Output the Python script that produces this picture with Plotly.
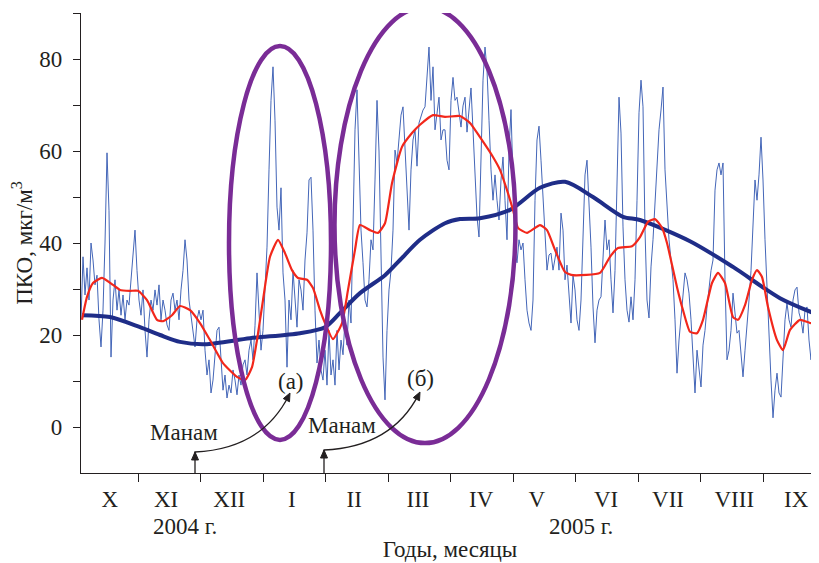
import plotly.graph_objects as go

# x axis unit: months counted from 1 Oct 2004 (month boundaries at integers)
month_labels = ["X", "XI", "XII", "I", "II", "III", "IV", "V", "VI", "VII", "VIII", "IX"]
month_label_pos = [0.55, 1.45, 2.46, 3.46, 4.46, 5.48, 6.49, 7.38, 8.49, 9.48, 10.54, 11.53]
month_bounds = [1, 2, 3, 4, 5, 6, 7, 8, 9, 10, 11]

# daily PKO values (thin blue line), first value at month 0.088, step 0.032 month
daily_start = 0.088
daily_step = 0.032
daily_pko = [
    23.3, 37, 28.7, 34.6, 27.6, 40, 36.3, 30.9, 33, 23.3,
    17.4, 25.4, 40, 59.6, 47, 15.2, 27.6, 32, 25.4, 29.8,
    24.3, 28.7, 23.3, 27.6, 26.5, 32, 38.5, 42.8, 34, 27.6,
    24.3, 29.8, 21, 15.2, 23.3, 27.6, 25.4, 29.8, 26.5, 30.9,
    23.3, 27.6, 25.4, 22.2, 21, 27.6, 29.1, 25.4, 27.6, 23.3,
    29.8, 34, 40.7, 36.3, 27.6, 23.9, 21, 17.4, 23.3, 25.4,
    23.3, 25.4, 16.7, 11.3, 14.6, 7.4, 10.2, 16.7, 21, 21.7,
    14.6, 8, 11.3, 6.3, 9.1, 7.4, 12.4, 10.2, 7, 11.3,
    9.1, 13.5, 14.6, 11.3, 16.7, 18.9, 14.6, 22, 33.5, 23.3,
    16.7, 21, 29.8, 39.1, 55.9, 71, 78.3, 66.7, 47.8, 42.8,
    52, 33.5, 27.6, 13, 27.6, 23.3, 34, 27.6, 21.7, 32,
    29.8, 25.4, 36.3, 42.2, 53.7, 54.3, 42.8, 25.4, 13.9, 18.9,
    12.4, 10.2, 16.7, 9.1, 21, 11.3, 14.6, 9.1, 21, 12.4,
    18.9, 15.7, 23.3, 17.8, 27.6, 22.6, 45.7, 64.6, 73.3, 60.2,
    42.8, 35.7, 27.6, 26.1, 32, 40.7, 38.5, 53.7, 71, 60,
    40, 15.2, 5.9, 21, 29.8, 34, 42.8, 60.2, 57.4, 62.4,
    67.8, 69.6, 60.2, 48.7, 42.8, 55.9, 62.4, 64.6, 56.7, 66.1,
    67.4, 68.9, 69.6, 75.4, 82.6, 71, 78.3, 64.6, 68.9, 71.7,
    62.4, 64.6, 64.6, 58, 55.9, 71, 76, 71, 71.7, 67.8,
    65.2, 69.8, 71.7, 64.1, 68.9, 73.7, 64.6, 54.8, 45.7, 41.3,
    55.9, 75.4, 82.6, 77.6, 66.7, 55.9, 49.3, 54.8, 49.3, 45,
    53.7, 58.7, 49.3, 40.7, 60.2, 69, 53.7, 38.5, 35.7, 40.7,
    38.5, 40, 32, 25.4, 22.6, 21, 27.6, 49.3, 62.4, 65.4,
    58, 50, 39.6, 34.1, 37.4, 37.8, 34.1, 36.3, 39.1, 34.1,
    46.5, 42.8, 32, 35.2, 27.6, 22.6, 33, 29.8, 23.3, 21,
    27.6, 40.7, 54.8, 58, 49.3, 39.1, 26.1, 18.3, 25.4, 27.6,
    28.3, 38.5, 45, 38.5, 40.7, 32, 24.8, 34, 53.7, 71.7,
    63.9, 43.5, 32, 25.4, 22.8, 28.3, 23.3, 32, 49.3, 68.3,
    75.4, 69.6, 42.8, 27.6, 23.7, 34.8, 40.7, 49.3, 58, 64.6,
    68.9, 73.9, 55.9, 47.2, 40.7, 36.3, 32, 23.3, 11.7, 18.9,
    23.3, 27.6, 33.5, 32, 29.1, 23.3, 14.6, 7.4, 16.7, 12.4,
    8.7, 17.8, 21, 26.1, 29.8, 34, 36.3, 51.5, 55.9, 57.4,
    54.8, 57.4, 32, 14.6, 16.7, 21, 29.1, 25.4, 20.4, 21,
    15.7, 10.9, 16.7, 23.3, 27.6, 34, 45, 53.7, 49.3, 54.8,
    63, 53.7, 40.7, 29.8, 21.7, 10.2, 2, 8, 11.7, 7.4,
    6.5, 14.6, 23.3, 27, 23.3, 21.7, 27.6, 29.8, 30.4, 24.8,
    23.3, 20.4, 25.4, 26.1, 18.9, 14.6, 21, 23.3, 27.6, 29.1,
]

# smoothed (red) curve
red_x = [0.104, 0.184, 0.28, 0.424, 0.6, 0.712, 0.872, 1.0, 1.144, 1.304, 1.4, 1.544, 1.672, 1.832,
         1.992, 2.152, 2.36, 2.584, 2.712, 2.824, 2.904, 3.0, 3.112, 3.24, 3.352, 3.464, 3.56, 3.704,
         3.8, 3.912, 3.992, 4.12, 4.264, 4.36, 4.472, 4.552, 4.712, 4.84, 4.952, 5.064, 5.224, 5.384,
         5.512, 5.72, 5.912, 6.152, 6.312, 6.472, 6.68, 6.792, 6.904, 7.0, 7.08, 7.224, 7.432, 7.544,
         7.672, 7.832, 7.96, 8.392, 8.552, 8.68, 8.904, 9.032, 9.16, 9.272, 9.384, 9.464, 9.624, 9.72,
         9.832, 9.944, 10.04, 10.184, 10.28, 10.392, 10.52, 10.6, 10.712, 10.824, 10.904, 10.984,
         11.08, 11.224, 11.32, 11.432, 11.592, 11.752, 11.896]
red_y = [23.3, 28.3, 31.3, 32.4, 30.9, 29.8, 29.6, 29.6, 27.6, 23.3, 23.0, 24.3, 26.3, 25.4,
         22.6, 18.9, 13.9, 10.9, 10.2, 13.0, 18.9, 27.6, 37, 40.7, 37.8, 34.1, 32.4, 32,
         30.2, 25.4, 22.6, 19.1, 22.6, 29.8, 38.5, 43.9, 42.8, 42.2, 44.3, 53, 60.9, 63.9,
         65.7, 67.8, 67.4, 67.6, 66.1, 63, 58.7, 55.9, 51.5, 47.2, 43.3, 42.2, 43.9, 42.8,
         38.5, 33.7, 33, 33.5, 37, 38.9, 39.3, 41.3, 44.6, 45.2, 43.3, 40, 30.4, 25.4,
         20.7, 20.4, 23.3, 31.3, 33.5, 31.3, 23.9, 23.3, 26.5, 32, 34.1, 32.6,
         26.1, 18.9, 16.7, 21.1, 23.3, 22.6, 22.4]

# long-term trend (thick dark blue)
trend_x = [0.104, 0.552, 1.032, 1.352, 1.672, 2.072, 2.792, 3.592, 3.992, 4.232, 4.552, 4.952,
           5.192, 5.512, 5.912, 6.152, 6.472, 6.952, 7.432, 7.832, 8.28, 8.76, 9.032, 9.832,
           10.52, 11.272, 11.896]
trend_y = [24.3, 23.9, 21.7, 20, 18.5, 18.0, 19.3, 20.4, 21.7, 24.8, 29.1, 33,
           36.3, 40.7, 44.3, 45.2, 45.4, 47.2, 52, 53.3, 50, 45.7, 45, 40.4,
           34.8, 28, 24.3]

FONT = "Liberation Serif, Times New Roman, serif"
INK = "#231f20"
PURPLE = "#7a2c96"
FS = 23

fig = go.Figure()
fig.add_trace(go.Scatter(y=daily_pko, x0=daily_start, dx=daily_step, mode="lines",
                         line=dict(color="#4466b8", width=1), showlegend=False))
fig.add_trace(go.Scatter(x=trend_x, y=trend_y, mode="lines",
                         line=dict(color="#1f2d88", width=4, shape="spline", smoothing=0.8),
                         showlegend=False))
fig.add_trace(go.Scatter(x=red_x, y=red_y, mode="lines",
                         line=dict(color="#f2271b", width=2.2, shape="spline", smoothing=0.5),
                         showlegend=False))

# ellipses
fig.add_shape(type="circle", xref="x", yref="y", x0=2.456, x1=4.088, y0=-2.8, y1=82.8,
              line=dict(color=PURPLE, width=4.5), layer="above")
fig.add_shape(type="circle", xref="x", yref="y", x0=4.144, x1=7.04, y0=-3.5, y1=91.3,
              line=dict(color=PURPLE, width=4.5), layer="above")

# "Манам" arrows: vertical stem from the axis, then a curve to the ellipse label
fig.add_shape(type="path", xref="x", yref="y",
              path="M 1.912,-10 L 1.912,-5.43 Q 2.984,-4.78 3.415,6.9",
              line=dict(color=INK, width=1.3))
fig.add_shape(type="path", xref="x", yref="y",
              path="M 3.976,-10 L 3.976,-5.0 Q 5.064,-4.35 5.495,7.2",
              line=dict(color=INK, width=1.3))
# arrow heads
for p in ["M 1.912,-5.43 L 1.856,-7.17 L 1.968,-7.17 Z",
          "M 3.976,-5.0 L 3.92,-6.74 L 4.032,-6.74 Z",
          "M 3.432,7.39 L 3.424,5.48 L 3.325,6.17 Z",
          "M 5.512,7.61 L 5.504,5.70 L 5.405,6.39 Z"]:
    fig.add_shape(type="path", xref="x", yref="y", path=p,
                  line=dict(color=INK, width=1), fillcolor=INK)

txt = dict(family=FONT, size=FS, color=INK)
annos = [
    dict(x=3.448, y=10, xref="x", yref="y", text="(а)", showarrow=False, font=txt),
    dict(x=5.512, y=10.65, xref="x", yref="y", text="(б)", showarrow=False, font=txt),
    dict(x=1.736, y=-1.3, xref="x", yref="y", text="Манам", showarrow=False, font=txt),
    dict(x=4.264, y=0.43, xref="x", yref="y", text="Манам", showarrow=False, font=txt),
    dict(x=1.752, y=-0.117, xref="x", yref="paper", text="2004 г.", showarrow=False,
         font=txt, yanchor="middle"),
    dict(x=8.088, y=-0.117, xref="x", yref="paper", text="2005 г.", showarrow=False,
         font=txt, yanchor="middle"),
]

# the page body adds an 8 px offset; figure size/margins compensate for it
fig.update_layout(
    width=811, height=555,
    margin=dict(l=73, r=0, t=5, b=90, autoexpand=False),
    paper_bgcolor="white", plot_bgcolor="white",
    font=dict(family=FONT, size=FS, color=INK),
    annotations=annos,
    xaxis=dict(range=[0.088, 11.896], showgrid=False, zeroline=False,
               showline=True, linecolor=INK, linewidth=1.3, automargin=False,
               title=dict(text="Годы, месяцы", standoff=30, font=txt),
               tickmode="array", tickvals=month_label_pos, ticktext=month_labels,
               ticks="", ticklabelstandoff=5,
               tickfont=dict(family=FONT, size=FS, color=INK),
               minor=dict(tickmode="array", tickvals=month_bounds, ticks="outside",
                          ticklen=8, tickwidth=1.3, tickcolor=INK, showgrid=False)),
    yaxis=dict(range=[-10, 90], showgrid=False, zeroline=False,
               showline=True, linecolor=INK, linewidth=1.3, automargin=False,
               title=dict(text="ПКО, мкг/м<sup>3</sup>", standoff=10, font=txt),
               tickmode="array", tickvals=[0, 20, 40, 60, 80],
               ticks="outside", ticklen=7, tickwidth=1.3, tickcolor=INK,
               ticklabelstandoff=6,
               tickfont=dict(family=FONT, size=FS, color=INK),
               minor=dict(tickmode="array", tickvals=[10, 30, 50, 70, 90], ticks="outside",
                          ticklen=7, tickwidth=1.3, tickcolor=INK, showgrid=False)),
)

fig.write_html("out.html")
